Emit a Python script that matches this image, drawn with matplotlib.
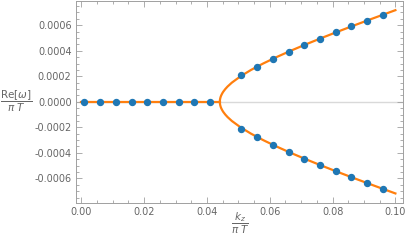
import numpy as np
import matplotlib.pyplot as plt
from matplotlib.ticker import AutoMinorLocator, FormatStrFormatter

# points: zero modes below the split, then the upper branch
dots_k_flat = [0.001, 0.006, 0.011, 0.016, 0.021, 0.026, 0.031, 0.036, 0.041]
dots_re_flat = [0, 0, 0, 0, 0, 0, 0, 0, 0]
dots_k_split = [0.051, 0.056, 0.061, 0.066, 0.071, 0.076, 0.081, 0.086, 0.091, 0.096]
dots_re_upper = [0.000210, 0.000276, 0.000337, 0.000393, 0.000445,
                 0.000495, 0.000544, 0.000591, 0.000637, 0.000684]

# orange curve, upper half (the lower half is its mirror image)
curve_re_upper = [0, 0.00001, 0.00002, 0.00003, 0.00004, 0.00005, 0.00006, 0.00007,
                  0.00008, 0.0001, 0.00012, 0.00015, 0.0002, 0.00025, 0.0003,
                  0.00035, 0.0004, 0.00045, 0.0005, 0.00055, 0.0006, 0.00065,
                  0.0007, 0.000718]
curve_k_upper = [0.0441, 0.04412, 0.04417, 0.04426, 0.04438, 0.04454, 0.04474, 0.04496,
                 0.04522, 0.04584, 0.04658, 0.04792, 0.05070, 0.05405, 0.05789,
                 0.06212, 0.06667, 0.07148, 0.07649, 0.08168, 0.08701, 0.09245,
                 0.09799, 0.1]
flat_k = [0.0, 0.0441]

blue = '#1f77b4'
orange = '#ff7f0e'
gray = '#666666'

fig = plt.figure(figsize=(4.07, 2.48), dpi=100)
ax = fig.add_axes([0.186, 0.183, 0.804, 0.813])

ax.axhline(0, color='#d9d9d9', lw=1.0, zorder=1)

ck = np.array(curve_k_upper)
cr = np.array(curve_re_upper)
ax.plot(np.concatenate([ck[::-1], ck[1:]]), np.concatenate([-cr[::-1], cr[1:]]),
        color=orange, lw=1.6, zorder=2)
ax.plot(flat_k, [0, 0], color=orange, lw=1.6, zorder=2)

ax.plot(dots_k_flat, dots_re_flat, 'o', color=blue, ms=4.3, zorder=3)
ax.plot(dots_k_split, dots_re_upper, 'o', color=blue, ms=4.3, zorder=3)
ax.plot(dots_k_split, -np.array(dots_re_upper), 'o', color=blue, ms=4.3, zorder=3)

ax.set_xlim(-0.00179, 0.1024)
ax.set_ylim(-0.00079, 0.00079)
ax.set_xticks([0.0, 0.02, 0.04, 0.06, 0.08, 0.10])
ax.set_yticks([-0.0006, -0.0004, -0.0002, 0.0, 0.0002, 0.0004, 0.0006])
ax.xaxis.set_major_formatter(FormatStrFormatter('%.2f'))
ax.yaxis.set_major_formatter(FormatStrFormatter('%.4f'))
ax.xaxis.set_minor_locator(AutoMinorLocator(4))
ax.yaxis.set_minor_locator(AutoMinorLocator(4))

ax.tick_params(which='both', direction='in', top=True, right=True,
               color='#a0a0a0', labelcolor=gray, labelsize=7, width=0.6)
ax.tick_params(which='major', length=4, pad=3)
ax.tick_params(which='minor', length=2)
ax.tick_params(axis='x', labeltop=False)
ax.tick_params(axis='y', labelright=False)
for s in ax.spines.values():
    s.set_color('#a0a0a0')
    s.set_linewidth(0.7)

fig.text(0.041, 0.593, r'$\dfrac{\mathrm{Re}[\omega]}{\pi\ T}$', color=gray,
         fontsize=7.5, ha='center', va='center')
fig.text(0.59, 0.097, r'$\dfrac{k_z}{\pi\ T}$', color=gray,
         fontsize=7.5, ha='center', va='center')

fig.savefig('out.png', dpi=100)
